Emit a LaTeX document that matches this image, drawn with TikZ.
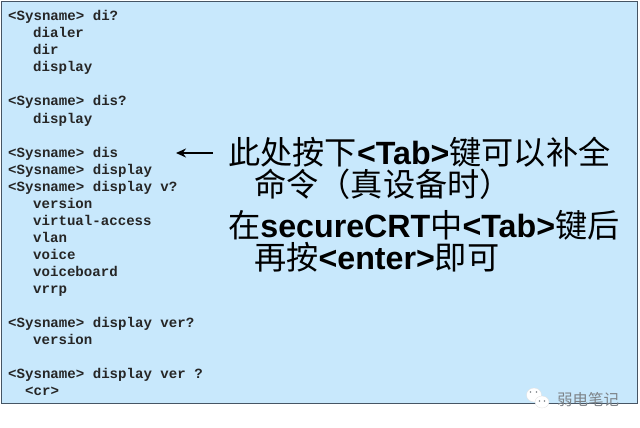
\documentclass[tikz,border=0pt]{standalone}
\usepackage{xcolor}
\usepackage{fontspec}
\setmainfont{Liberation Sans}
\setmonofont{Liberation Mono}
\newfontfamily\cjk{Noto Sans CJK SC}
\usetikzlibrary{arrows.meta}
\definecolor{PanelBlue}{RGB}{200,232,252}
\definecolor{PanelEdge}{RGB}{70,85,100}
\definecolor{MarkGray}{RGB}{125,130,135}
\newcommand{\zh}[1]{{\cjk #1}}
\newcommand{\en}[1]{{\bfseries #1}}
\tikzset{
    termline/.style={anchor=base west, inner sep=0pt, text=black!85, font=\fontsize{14.1}{17}\selectfont\ttfamily\bfseries},
    noteline/.style={anchor=base west, inner sep=0pt, text=black, font=\fontsize{32.2}{36}\selectfont},
    markbubble/.style={fill=white, draw=black!12, line width=0.3pt}
}

\begin{document}
\begin{tikzpicture}[x=1pt,y=-1pt]
    \useasboundingbox (0,0) rectangle (640,428);
    \fill[white] (0,0) rectangle (640,428);
    \draw[fill=PanelBlue, draw=PanelEdge, line width=1pt] (1.5,2) rectangle (637,403);
    % terminal output
    \foreach \name/\y/\x/\txt in {
        a/21/8/{<Sysname> di?}, b/38/33/dialer, c/55/33/dir, d/72/33/display,
        e/106/8/{<Sysname> dis?}, f/123/33/display,
        g/157/8/{<Sysname> dis}, h/174/8/{<Sysname> display}, i/191/8/{<Sysname> display v?},
        j/208/33/version, k/225/33/virtual-access, l/242/33/vlan, m/259/33/voice,
        n/276/33/voiceboard, o/293/33/vrrp,
        p/327/8/{<Sysname> display ver?}, q/344/33/version,
        r/378/8/{<Sysname> display ver ?}, s/395/25/{<cr>}}
    {
        \node[termline] (term\name) at (\x,\y) {\txt};
    }
    % notes on the right
    \node[noteline] (noteA) at (228,164) {\zh{此处按下}\en{<Tab>}\zh{键可以补全}};
    \node[noteline] (noteB) at (254,196) {\zh{命令（真设备时）}};
    \node[noteline] (noteC) at (228,237) {\zh{在}\en{secureCRT}\zh{中}\en{<Tab>}\zh{键后}};
    \node[noteline] (noteD) at (254,269) {\zh{再按}\en{<enter>}\zh{即可}};
    \coordinate (arrowEnd) at (176,153);
    \draw[-{Stealth[length=10pt,width=9pt]}, line width=2.6pt] (213,153) -- (arrowEnd);
    % watermark
    \draw[markbubble] (534,395) ellipse (7.5 and 7);
    \draw[markbubble] (542,402) ellipse (7 and 6);
    \foreach \x/\y in {530.5/392, 536.5/392, 539.5/401, 544.5/401}
        \fill[MarkGray] (\x,\y) circle (0.9);
    \node[anchor=west, inner sep=0pt, text=MarkGray, font=\fontsize{15.5}{15}\selectfont\cjk] (mark) at (557,400) {弱电笔记};
\end{tikzpicture}
\end{document}
